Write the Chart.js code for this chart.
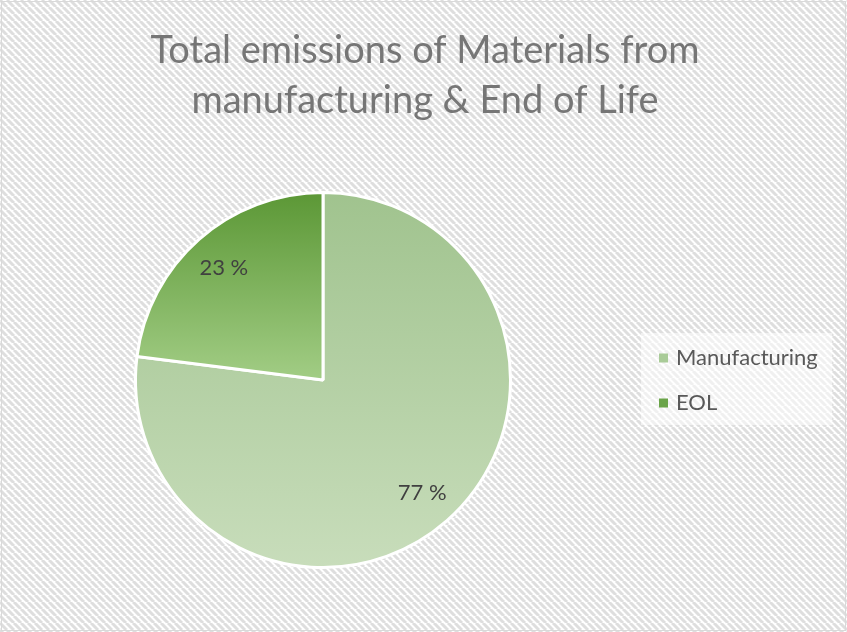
<!DOCTYPE html>
<html>
<head>
<meta charset="utf-8">
<script src="https://cdn.jsdelivr.net/npm/chart.js@4"></script>
<style>
  html, body { margin: 0; padding: 0; background: #fff; }
  canvas { display: block; }
</style>
</head>
<body>
<canvas id="pie" width="847" height="632"></canvas>
<script>
// chart values
var titleLines = ["Total emissions of Materials from", "manufacturing & End of Life"];
var categories = ["Manufacturing", "EOL"];
var shares = [77, 23];

// slice gradients (top colour, bottom colour)
var sliceTop = ["#a0c38e", "#5b9735"];
var sliceBottom = ["#c8ddbb", "#a2cd85"];
var legendSwatch = ["#a9cb98", "#6aa449"];

function stripes(ctx) {
    var p = 7;
    var tile = document.createElement("canvas");
    tile.width = p; tile.height = p;
    var t = tile.getContext("2d");
    t.fillStyle = "#ffffff";
    t.fillRect(0, 0, p, p);
    t.strokeStyle = "#dedede";
    t.lineWidth = 3;
    t.beginPath();
    for (var k = -1; k <= 1; k++) {
        t.moveTo(k * p, 0);
        t.lineTo(k * p + p, p);
    }
    t.stroke();
    return ctx.createPattern(tile, "repeat");
}

var backdrop = {
    id: "backdrop",
    beforeDraw: function(chart) {
        var ctx = chart.ctx;
        ctx.save();
        ctx.fillStyle = stripes(ctx);
        ctx.fillRect(0, 0, chart.width, chart.height);
        ctx.strokeStyle = "#d9d9d9";
        ctx.lineWidth = 1;
        ctx.strokeRect(1.5, 1.5, chart.width - 3, chart.height - 3);

        // two-line heading
        ctx.fillStyle = "#767676";
        ctx.font = "38px Lato";
        ctx.textAlign = "center";
        ctx.textBaseline = "alphabetic";
        ctx.fillText(titleLines[0], 425, 63);
        ctx.fillText(titleLines[1], 425, 113);
        ctx.restore();
    }
};

var sideLegend = {
    id: "sideLegend",
    afterDraw: function(chart) {
        var ctx = chart.ctx;
        ctx.save();
        ctx.fillStyle = "rgba(255,255,255,0.55)";
        ctx.fillRect(641, 333, 191, 92);
        ctx.font = "22px Lato";
        ctx.textBaseline = "middle";
        ctx.textAlign = "left";
        chart.data.labels.forEach(function(label, i) {
            var y = 358 + i * 45;
            ctx.fillStyle = legendSwatch[i];
            ctx.fillRect(659, y - 4.5, 9, 9);
            ctx.fillStyle = "#595959";
            ctx.fillText(label, 676, y);
        });
        ctx.restore();
    }
};

var sliceLabels = {
    id: "sliceLabels",
    afterDatasetsDraw: function(chart) {
        var ctx = chart.ctx;
        var meta = chart.getDatasetMeta(0);
        ctx.save();
        ctx.font = "22px Lato";
        ctx.fillStyle = "#404040";
        ctx.textAlign = "center";
        ctx.textBaseline = "middle";
        meta.data.forEach(function(arc, i) {
            var mid = (arc.startAngle + arc.endAngle) / 2;
            var r = arc.outerRadius * 0.8;
            ctx.fillText(chart.data.datasets[0].data[i] + " %", arc.x + Math.cos(mid) * r, arc.y + Math.sin(mid) * r);
        });
        ctx.restore();
    }
};

function sliceFill(context) {
    var i = context.dataIndex;
    var area = context.chart.chartArea;
    if (!area) return sliceTop[i];
    var cy = (area.top + area.bottom) / 2;
    var r = (area.bottom - area.top) / 2;
    var y1 = i === 0 ? cy + r : cy;
    var g = context.chart.ctx.createLinearGradient(0, cy - r, 0, y1);
    g.addColorStop(0, sliceTop[i]);
    g.addColorStop(1, sliceBottom[i]);
    return g;
}

new Chart(document.getElementById("pie"), {
    type: "pie",
    data: {
        labels: categories,
        datasets: [{
            data: shares,
            backgroundColor: sliceFill,
            borderColor: "#ffffff",
            borderWidth: 3
        }]
    },
    options: {
        responsive: false,
        animation: false,
        layout: {padding: {left: 134, right: 335, top: 191, bottom: 63}},
        plugins: {
            legend: {display: false},
            title: {display: false},
            tooltip: {enabled: false}
        }
    },
    plugins: [backdrop, sideLegend, sliceLabels]
});
</script>
</body>
</html>
